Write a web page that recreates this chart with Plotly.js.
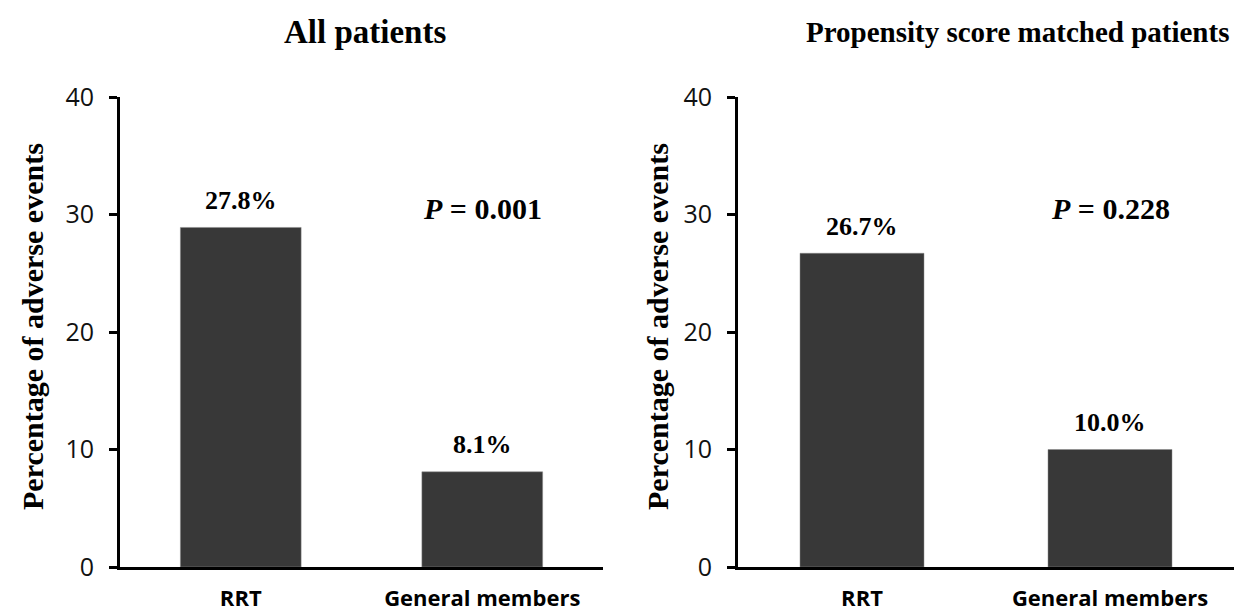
<!DOCTYPE html>
<html>
<head>
<meta charset="utf-8">
<script src="https://cdn.plot.ly/plotly-3.0.1.min.js"></script>
<style>html,body{margin:0;padding:0;background:#fff;}#chart{width:1236px;height:615px;}</style>
</head>
<body>
<div id="chart"></div>
<script>
const categories = ["RRT", "General members"];
const allValues = [28.9, 8.1];
const allLabels = ["27.8%", "8.1%"];
const matchedValues = [26.7, 10.0];
const matchedLabels = ["26.7%", "10.0%"];
const panelTitles = ["All patients", "Propensity score matched patients"];
const pTexts = ["<i>P</i> = 0.001", "<i>P</i> = 0.228"];
const yTitle = "Percentage of adverse events";
const yTicks = [0, 10, 20, 30, 40];

const barColor = "#383838";
const serif = "Liberation Serif, Times New Roman, serif";
const sans = "Open Sans, Noto Sans, sans-serif";

const traces = [
  {type: "bar", x: categories, y: allValues, xaxis: "x", yaxis: "y", width: 0.5,
   marker: {color: barColor, line: {color: "#888", width: 0.5}}, hoverinfo: "none"},
  {type: "bar", x: categories, y: matchedValues, xaxis: "x2", yaxis: "y2", width: 0.5,
   marker: {color: barColor, line: {color: "#888", width: 0.5}}, hoverinfo: "none"}
];

function xAxis(domain, anchor) {
  return {domain: domain, anchor: anchor, type: "category", range: [-0.5, 1.5],
    showline: true, linecolor: "#000", linewidth: 3, ticks: "", showgrid: false, zeroline: false,
    tickfont: {family: sans, size: 22, color: "#000", weight: "bold"}, ticklabelstandoff: 10,
    fixedrange: true};
}
function yAxis(domain, anchor) {
  return {domain: domain, anchor: anchor, range: [0, 40], tickvals: yTicks,
    showline: true, linecolor: "#000", linewidth: 3, ticks: "outside", ticklen: 8, tickwidth: 3,
    tickcolor: "#000", showgrid: false, zeroline: false, ticklabelstandoff: 10,
    tickfont: {family: sans, size: 25, color: "#111"}, fixedrange: true};
}

const yDom = [(615 - 567) / 615, (615 - 97) / 615];
const layout = {
  width: 1236, height: 615,
  margin: {l: 0, r: 0, t: 0, b: 0},
  paper_bgcolor: "#fff", plot_bgcolor: "#fff",
  showlegend: false,
  xaxis: xAxis([120 / 1236, 603 / 1236], "y"),
  yaxis: yAxis(yDom, "x"),
  xaxis2: xAxis([738 / 1236, 1234 / 1236], "y2"),
  yaxis2: yAxis(yDom, "x2"),
  annotations: []
};

layout.annotations.push({xref: "paper", yref: "paper", x: 365 / 1236, y: 1 - 32 / 615, text: "<b>" + panelTitles[0] + "</b>",
  showarrow: false, font: {family: serif, size: 33, color: "#000", weight: "bold"}, xanchor: "center", yanchor: "middle"});
layout.annotations.push({xref: "paper", yref: "paper", x: 1231 / 1236, y: 1 - 32 / 615, text: "<b>" + panelTitles[1] + "</b>",
  showarrow: false, font: {family: serif, size: 29, color: "#000", weight: "bold"}, xanchor: "right", yanchor: "middle"});

const yTitleFont = {family: serif, size: 30, color: "#000", weight: "bold"};
[32, 657].forEach(function (px) {
  layout.annotations.push({xref: "paper", yref: "paper", x: px / 1236, y: 1 - 327 / 615,
    text: "<b>" + yTitle + "</b>", textangle: -90, showarrow: false, font: yTitleFont,
    xanchor: "center", yanchor: "middle"});
});

const labFont = {family: serif, size: 26, color: "#000", weight: "bold"};
[["x", "y", allValues, allLabels], ["x2", "y2", matchedValues, matchedLabels]].forEach(function (s) {
  s[2].forEach(function (v, i) {
    layout.annotations.push({xref: s[0], yref: s[1], x: categories[i], y: v, text: "<b>" + s[3][i] + "</b>",
      showarrow: false, font: labFont, xanchor: "center", yanchor: "middle", yshift: 27});
  });
});

const pFont = {family: serif, size: 30, color: "#000", weight: "bold"};
layout.annotations.push({xref: "x", yref: "y", x: categories[1], y: 30.5, text: "<b>" + pTexts[0] + "</b>",
  showarrow: false, font: pFont, xanchor: "center", yanchor: "middle"});
layout.annotations.push({xref: "x2", yref: "y2", x: categories[1], y: 30.5, text: "<b>" + pTexts[1] + "</b>",
  showarrow: false, font: pFont, xanchor: "center", yanchor: "middle"});

Plotly.newPlot("chart", traces, layout, {displayModeBar: false, staticPlot: true});
</script>
</body>
</html>
